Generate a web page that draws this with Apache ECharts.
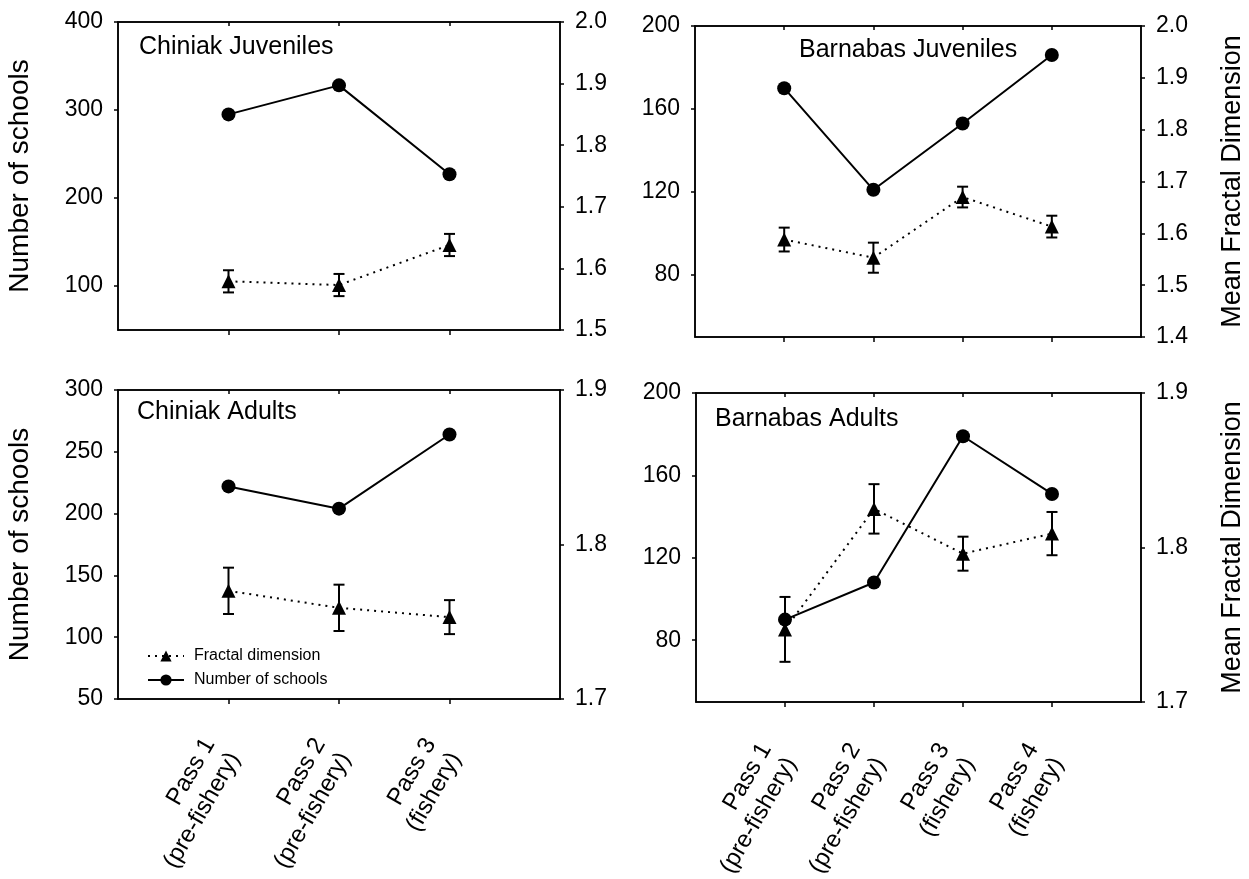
<!DOCTYPE html>
<html>
<head>
<meta charset="utf-8">
<script src="https://cdn.jsdelivr.net/npm/echarts@6/dist/echarts.min.js"></script>
<style>
html,body{margin:0;padding:0;background:#fff;}
#chart{width:1249px;height:879px;}
</style>
</head>
<body>
<div id="chart"></div>
<script>
// ---- data ----
const passesChiniak = ['Pass 1\n(pre-fishery)', 'Pass 2\n(pre-fishery)', 'Pass 3\n(fishery)'];
const passesBarnabas = ['Pass 1\n(pre-fishery)', 'Pass 2\n(pre-fishery)', 'Pass 3\n(fishery)', 'Pass 4\n(fishery)'];

const chiniakJuvSchools = [295, 328, 227];
const chiniakJuvFD      = [1.579, 1.573, 1.638];
const chiniakJuvFDErr   = [0.018, 0.018, 0.018];

const barnabasJuvSchools = [170, 121, 153, 186];
const barnabasJuvFD      = [1.588, 1.553, 1.670, 1.613];
const barnabasJuvFDErr   = [0.023, 0.029, 0.020, 0.021];

const chiniakAdSchools = [222, 204, 264];
const chiniakAdFD      = [1.770, 1.759, 1.753];
const chiniakAdFDErr   = [0.015, 0.015, 0.011];

const barnabasAdSchools = [90, 108, 179, 151];
const barnabasAdFD      = [1.747, 1.825, 1.796, 1.809];
const barnabasAdFDErr   = [0.021, 0.016, 0.011, 0.014];

const juvChiniakLeftTicks = [100, 200, 300, 400];
const barnabasLeftTicks = [80, 120, 160, 200];

const FONT = "'Liberation Sans', Arial, Helvetica, sans-serif";
const BLACK = '#000';

const panels = [
  { title: 'Chiniak Juveniles', titleLeft: 139, titleTop: 35,
    grid: {left: 118, top: 22, width: 442, height: 308},
    cats: passesChiniak, schools: chiniakJuvSchools, fd: chiniakJuvFD, err: chiniakJuvFDErr,
    yl: {min: 50, max: 400, ticks: juvChiniakLeftTicks}, yr: {min: 1.5, max: 2.0},
    xLabels: false, labelMargin: 37, leftName: 'Number of schools', rightName: '' },
  { title: 'Barnabas Juveniles', titleLeft: 799, titleTop: 38,
    grid: {left: 695, top: 26, width: 446, height: 311},
    cats: passesBarnabas, schools: barnabasJuvSchools, fd: barnabasJuvFD, err: barnabasJuvFDErr,
    yl: {min: 50, max: 200, ticks: barnabasLeftTicks}, yr: {min: 1.4, max: 2.0},
    xLabels: false, labelMargin: 37, leftName: '', rightName: 'Mean Fractal Dimension' },
  { title: 'Chiniak Adults', titleLeft: 137, titleTop: 400,
    grid: {left: 118, top: 390, width: 442, height: 309},
    cats: passesChiniak, schools: chiniakAdSchools, fd: chiniakAdFD, err: chiniakAdFDErr,
    yl: {min: 50, max: 300, interval: 50}, yr: {min: 1.7, max: 1.9},
    xLabels: true, labelMargin: 37, leftName: 'Number of schools', rightName: '' },
  { title: 'Barnabas Adults', titleLeft: 715, titleTop: 407,
    grid: {left: 696, top: 393, width: 445, height: 309},
    cats: passesBarnabas, schools: barnabasAdSchools, fd: barnabasAdFD, err: barnabasAdFDErr,
    yl: {min: 50, max: 200, ticks: barnabasLeftTicks}, yr: {min: 1.7, max: 1.9},
    xLabels: true, labelMargin: 39, leftName: '', rightName: 'Mean Fractal Dimension' }
];

const option = {
  backgroundColor: '#fff',
  animation: false,
  textStyle: {fontFamily: FONT, color: BLACK},
  title: [], grid: [], xAxis: [], yAxis: [], series: [],
  legend: {
    data: ['Fractal dimension', 'Number of schools'],
    orient: 'vertical', left: 147, top: 648,
    itemWidth: 36, itemHeight: 14, itemGap: 8, padding: 0,
    selectedMode: false,
    textStyle: {fontSize: 16, color: BLACK, fontFamily: FONT, padding: [0, 0, 0, 5]}
  }
};

function errRender(params, api) {
  const x = api.value(0);
  const lo = api.coord([x, api.value(1)]);
  const hi = api.coord([x, api.value(2)]);
  const w = 5.5;
  const st = {stroke: BLACK, lineWidth: 2};
  return {type: 'group', children: [
    {type: 'line', shape: {x1: lo[0], y1: lo[1], x2: hi[0], y2: hi[1]}, style: st},
    {type: 'line', shape: {x1: lo[0]-w, y1: lo[1], x2: lo[0]+w, y2: lo[1]}, style: st},
    {type: 'line', shape: {x1: hi[0]-w, y1: hi[1], x2: hi[0]+w, y2: hi[1]}, style: st}
  ]};
}

panels.forEach((p, i) => {
  const n = p.cats.length;
  const xs = p.cats.map((c, k) => k + 1);
  option.title.push({
    text: p.title, left: p.titleLeft, top: p.titleTop, padding: 0,
    textStyle: {fontSize: 25, fontWeight: 'normal', color: BLACK, fontFamily: FONT}
  });
  option.grid.push(Object.assign({
    show: true, borderColor: BLACK, borderWidth: 1.5, backgroundColor: 'transparent',
    containLabel: false, outerBoundsMode: 'none'
  }, p.grid));
  // bottom x axis
  option.xAxis.push({
    type: 'value', gridIndex: i, position: 'bottom', min: 0, max: n + 1, interval: 1,
    axisLine: {show: true, onZero: false, lineStyle: {color: BLACK, width: 1.5}},
    axisTick: {show: true, length: 5, inside: false, lineStyle: {color: BLACK, width: 1.5}, customValues: xs},
    splitLine: {show: false},
    axisLabel: {
      show: p.xLabels, customValues: xs, rotate: 60, margin: p.labelMargin, fontSize: 24, lineHeight: 29,
      color: BLACK, fontFamily: FONT, padding: [13, 13, 0, 0],
      formatter: v => p.cats[Math.round(v) - 1] || ''
    }
  });
  // top x axis (ticks only)
  option.xAxis.push({
    type: 'value', gridIndex: i, position: 'top', min: 0, max: n + 1, interval: 1,
    axisLine: {show: true, onZero: false, lineStyle: {color: BLACK, width: 1.5}},
    axisTick: {show: true, length: 4, inside: true, lineStyle: {color: BLACK, width: 1.5}, customValues: xs},
    axisLabel: {show: false}, splitLine: {show: false}
  });
  // left y axis
  const yl = {
    type: 'value', gridIndex: i, position: 'left', min: p.yl.min, max: p.yl.max,
    axisLine: {show: true, onZero: false, lineStyle: {color: BLACK, width: 1.5}},
    axisTick: {show: true, length: 4, lineStyle: {color: BLACK, width: 1.5}},
    splitLine: {show: false},
    axisLabel: {fontSize: 23, color: BLACK, margin: 15, fontFamily: FONT},
    name: p.leftName, nameLocation: 'middle', nameRotate: 90, nameGap: 84,
    nameTextStyle: {fontSize: 28, color: BLACK, fontFamily: FONT}
  };
  if (p.yl.ticks) {
    yl.axisTick.customValues = p.yl.ticks;
    yl.axisLabel.customValues = p.yl.ticks;
  } else {
    yl.interval = p.yl.interval;
  }
  option.yAxis.push(yl);
  // right y axis
  option.yAxis.push({
    type: 'value', gridIndex: i, position: 'right', min: p.yr.min, max: p.yr.max, interval: 0.1,
    axisLine: {show: true, onZero: false, lineStyle: {color: BLACK, width: 1.5}},
    axisTick: {show: true, length: 4, lineStyle: {color: BLACK, width: 1.5}},
    splitLine: {show: false},
    axisLabel: {fontSize: 23, color: BLACK, margin: 15, fontFamily: FONT, formatter: v => v.toFixed(1)},
    name: p.rightName, nameLocation: 'middle', nameRotate: 90, nameGap: 78,
    nameTextStyle: {fontSize: 27, color: BLACK, fontFamily: FONT}
  });
  const xb = 2 * i, yLeft = 2 * i, yRight = 2 * i + 1;
  option.series.push({
    name: 'Fractal dimension-err', type: 'custom', xAxisIndex: xb, yAxisIndex: yRight,
    renderItem: errRender, encode: {x: 0, y: [1, 2]}, z: 2,
    data: p.fd.map((v, k) => [k + 1, v - p.err[k], v + p.err[k]])
  });
  option.series.push({
    name: 'Fractal dimension', type: 'line', xAxisIndex: xb, yAxisIndex: yRight,
    data: p.fd.map((v, k) => [k + 1, v]),
    symbol: 'triangle', symbolSize: 14, z: 3,
    lineStyle: {color: BLACK, width: 2, type: [2, 5]},
    itemStyle: {color: BLACK}
  });
  option.series.push({
    name: 'Number of schools', type: 'line', xAxisIndex: xb, yAxisIndex: yLeft,
    data: p.schools.map((v, k) => [k + 1, v]),
    symbol: 'circle', symbolSize: 14, z: 4,
    lineStyle: {color: BLACK, width: 2},
    itemStyle: {color: BLACK}
  });
});

const chart = echarts.init(document.getElementById('chart'), null, {renderer: 'canvas'});
chart.setOption(option);
</script>
</body>
</html>
